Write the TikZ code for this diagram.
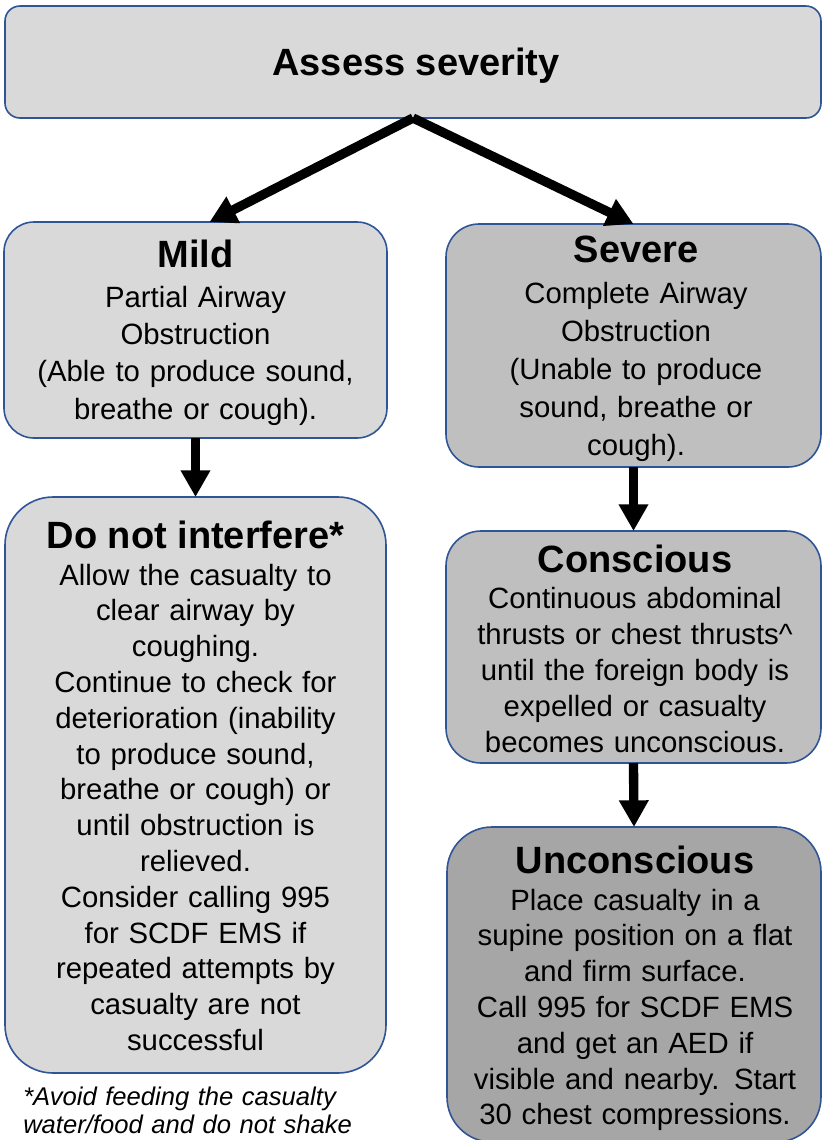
\documentclass[tikz,border=0pt]{standalone}
\usepackage{fontspec}
\setmainfont{Liberation Sans}
\usetikzlibrary{arrows.meta,calc}
\definecolor{lightg}{HTML}{D9D9D9}
\definecolor{midg}{HTML}{BFBFBF}
\definecolor{darkg}{HTML}{A6A6A6}
\definecolor{bord}{HTML}{2F5597}
\begin{document}
\begin{tikzpicture}[x=0.75pt,y=-0.75pt,
  box/.style={draw=bord, line width=1.2pt, inner sep=0pt, outer sep=0pt},
  head/.style={font=\fontsize{28.5pt}{34pt}\selectfont\bfseries, anchor=base, inner sep=0pt},
  body/.style={font=\fontsize{22pt}{#1}\selectfont, anchor=base, inner sep=0pt, align=center, text width=285pt},
  body/.default=26.85pt,
  arr/.style={line width=7pt, -{Triangle[length=20pt,width=21pt]}}]
\useasboundingbox (0,0) rectangle (823,1140);
\clip (0,0) rectangle (823,1140);

% boxes
\node[box, fill=lightg, minimum width=612pt, minimum height=84pt, rounded corners=11.25pt] (top) at (413,62) {};
\node[box, fill=lightg, minimum width=287.25pt, minimum height=162pt, rounded corners=22.5pt] (mild) at (195.5,330) {};
\node[box, fill=midg, minimum width=281.25pt, minimum height=182.25pt, rounded corners=24.75pt] (severe) at (633.5,345.5) {};
\node[box, fill=lightg, minimum width=285.75pt, minimum height=432pt, rounded corners=36pt] (dni) at (195.5,785) {};
\node[box, fill=midg, minimum width=281.25pt, minimum height=174pt, rounded corners=26.25pt] (cons) at (633.5,647) {};
\node[box, fill=darkg, minimum width=280.5pt, minimum height=236.25pt, rounded corners=33.75pt] (uncons) at (634,984.5) {};

% texts
\node[head] (topT) at (416,75) {Assess severity};

\node[head] (mildH) at (195.5,267) {Mild};
\node[body=28pt] (mildB) at (195.5,307) {Partial Airway\\Obstruction\\(Able to produce sound,\\breathe or cough).};

\node[head] (sevH) at (636,262) {Severe};
\node[body=28.5pt] (sevB) at (636,303) {Complete Airway\\Obstruction\\(Unable to produce\\sound, breathe or\\cough).};

\node[head] (dniH) at (195.5,548) {Do not interfere*};
\node[body] (dniB) at (195.5,585) {Allow the casualty to\\clear airway by\\coughing.\\Continue to check for\\deterioration (inability\\to produce sound,\\breathe or cough) or\\until obstruction is\\relieved.\\Consider calling 995\\for SCDF EMS if\\repeated attempts by\\casualty are not\\successful};

\node[head] (consH) at (635,572) {Conscious};
\node[body=27pt] (consB) at (635,608) {Continuous abdominal\\thrusts or chest thrusts\textasciicircum\\until the foreign body is\\expelled or casualty\\becomes unconscious.};

\node[head] (unconsH) at (635,873) {Unconscious};
\node[body] (unconsB) at (635,910) {Place casualty in a\\supine position on a flat\\and firm surface.\\Call 995 for SCDF EMS\\and get an AED if\\visible and nearby. Start\\30 chest compressions.};

\node[anchor=base west, inner sep=0pt, align=left, text width=300pt, font=\fontsize{19.2pt}{21.4pt}\selectfont\itshape] (foot) at (23,1105) {*Avoid feeding the casualty\\water/food and do not shake};

% arrows
\draw[arr] (top.south) -- ($(mild.north)+(14,0)$);
\draw[arr] (top.south) -- (severe.north);
\draw[arr] (mild.south) -- (dni.north);
\draw[arr] (severe.south) -- (cons.north);
\draw[arr] (cons.south) -- (uncons.north);
\end{tikzpicture}
\end{document}
